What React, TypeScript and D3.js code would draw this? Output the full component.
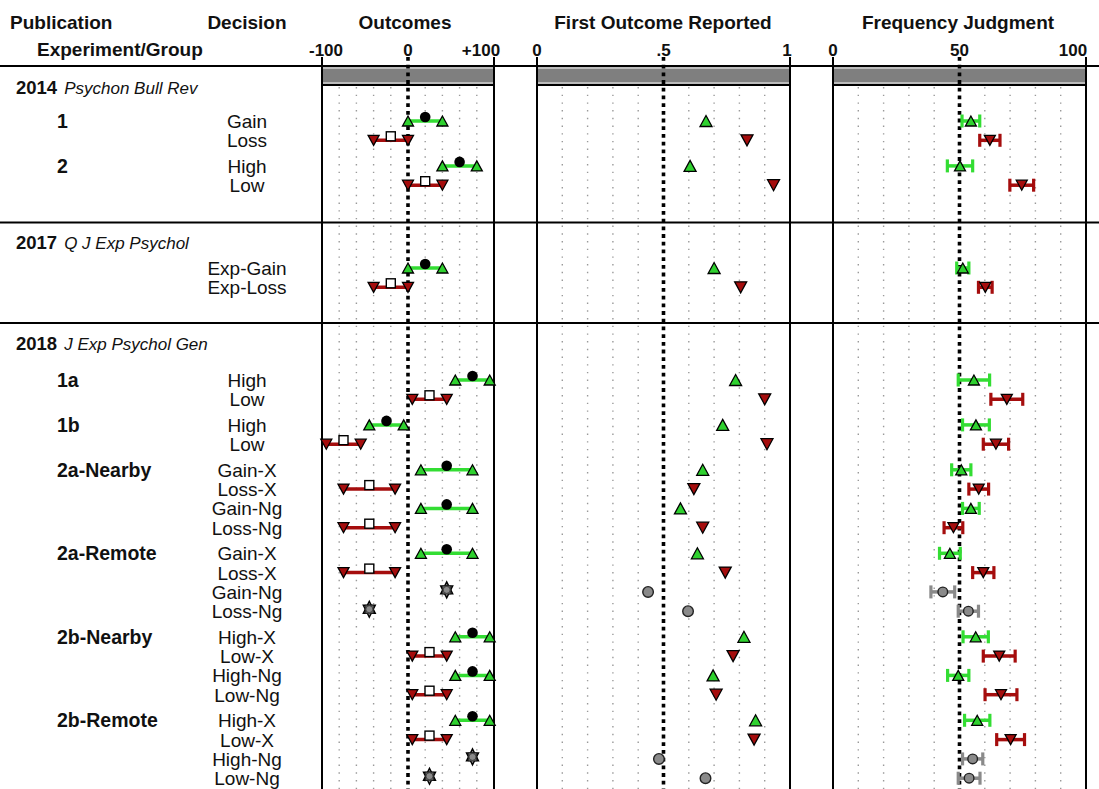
import React from "react";
import * as d3 from "d3";

// ---------- data ----------
const sectionYears = ["2014", "2017", "2018"];
const sectionJournals = ["Psychon Bull Rev", "Q J Exp Psychol", "J Exp Psychol Gen"];

const rowSection = [0, 0, 0, 0, 1, 1, 2, 2, 2, 2, 2, 2, 2, 2, 2, 2, 2, 2, 2, 2, 2, 2, 2, 2, 2, 2];
const rowGroup = ["1", "1", "2", "2", "", "", "1a", "1a", "1b", "1b",
  "2a-Nearby", "2a-Nearby", "2a-Nearby", "2a-Nearby",
  "2a-Remote", "2a-Remote", "2a-Remote", "2a-Remote",
  "2b-Nearby", "2b-Nearby", "2b-Nearby", "2b-Nearby",
  "2b-Remote", "2b-Remote", "2b-Remote", "2b-Remote"];
const rowDecision = ["Gain", "Loss", "High", "Low", "Exp-Gain", "Exp-Loss", "High", "Low", "High", "Low",
  "Gain-X", "Loss-X", "Gain-Ng", "Loss-Ng",
  "Gain-X", "Loss-X", "Gain-Ng", "Loss-Ng",
  "High-X", "Low-X", "High-Ng", "Low-Ng",
  "High-X", "Low-X", "High-Ng", "Low-Ng"];
const rowType = ["gain", "loss", "gain", "loss", "gain", "loss", "gain", "loss", "gain", "loss",
  "gain", "loss", "gain", "loss",
  "gain", "loss", "ng", "ng",
  "gain", "loss", "gain", "loss",
  "gain", "loss", "ng", "ng"];
const outLow = [0, -40, 40, 0, 0, -40, 55, 5, -45, -95, 15, -75, 15, -75, 15, -75, 45, -45, 55, 5, 55, 5, 55, 5, 75, 25];
const outMid = [20, -20, 60, 20, 20, -20, 75, 25, -25, -75, 45, -45, 45, -45, 45, -45, 45, -45, 75, 25, 75, 25, 75, 25, 75, 25];
const outHigh = [40, 0, 80, 40, 40, 0, 95, 45, -5, -55, 75, -15, 75, -15, 75, -15, 45, -45, 95, 45, 95, 45, 95, 45, 75, 25];
const firstReported = [0.668, 0.83, 0.605, 0.935, 0.70, 0.805, 0.785, 0.90, 0.734, 0.909,
  0.655, 0.62, 0.567, 0.655, 0.634, 0.744, 0.439, 0.597,
  0.818, 0.775, 0.696, 0.708, 0.864, 0.858, 0.482, 0.666];
const freqMean = [54.5, 62, 50.2, 74.6, 51.3, 60.2, 55.7, 68.7, 56.5, 64.4,
  50.7, 57.6, 54.5, 47.6, 46.2, 59.4, 43.4, 53.5,
  56.4, 65.7, 49.5, 66.4, 57, 70.2, 55.2, 53.8];
const freqCI = [3.5, 4, 5, 4.7, 2.4, 2.7, 6.2, 6.3, 5.3, 5,
  3.8, 3.9, 3.3, 3.7, 4.1, 4.2, 4.7, 4,
  5, 6.3, 4.2, 6.3, 5, 5.5, 4, 4.3];

const outTicks = [-100, 0, 100];
const outTickLabels = ["-100", "0", "+100"];
const firstTicks = [0, 0.5, 1];
const firstTickLabels = ["0", ".5", "1"];
const freqTicks = [0, 50, 100];
const freqTickLabels = ["0", "50", "100"];

// ---------- layout ----------
const W = 1099, H = 789;
const FONT = "'Liberation Sans', Arial, Helvetica, sans-serif";
const GREEN = "#2fd12f";
const GREEN_LINE = "#33dd33";
const RED = "#a50d0d";
const GRAY = "#8a8a8a";

const xOut = d3.scaleLinear().domain([-100, 100]).range([322, 494]);
const xFirst = d3.scaleLinear().domain([0, 1]).range([537, 790]);
const xFreq = d3.scaleLinear().domain([0, 100]).range([833, 1086]);

const sectionHeaderY = [87, 242, 343];
const sectionFirstRowY = [121, 268, 380];
const ROW_STEP = 19.3;
const GROUP_STEP = 25.6;

const rowY: number[] = [];
rowSection.forEach((s, i) => {
  if (i === 0 || rowSection[i - 1] !== s) rowY.push(sectionFirstRowY[s]);
  else {
    const prev = rowY[i - 1];
    const newGroup = rowGroup[i] !== rowGroup[i - 1];
    rowY.push(prev + (newGroup ? GROUP_STEP : ROW_STEP));
  }
});

const sepLines = [222.5, 323];
const HEADER_Y = 66;
const BAND_BOTTOM = 85;
const TOP_TICK = 57;

const triUp = (w: number, h: number) => `M${-w / 2},${h / 2}L${w / 2},${h / 2}L0,${-h / 2}Z`;
const triDown = (w: number, h: number) => `M${-w / 2},${-h / 2}L${w / 2},${-h / 2}L0,${h / 2}Z`;

const panels = [
  { scale: xOut, grid: [-80, -60, -40, -20, 20, 40, 60, 80], center: 0, ticks: outTicks, labels: outTickLabels, title: "Outcomes", titleX: 405 },
  { scale: xFirst, grid: [0.1, 0.2, 0.3, 0.4, 0.6, 0.7, 0.8, 0.9], center: 0.5, ticks: firstTicks, labels: firstTickLabels, title: "First Outcome Reported", titleX: 663 },
  { scale: xFreq, grid: [10, 20, 30, 40, 60, 70, 80, 90], center: 50, ticks: freqTicks, labels: freqTickLabels, title: "Frequency Judgment", titleX: 958 },
];

const tickX = (pi: number, i: number, v: number, sc: any) => {
  const x = sc(v);
  if (pi === 0 && i === 0) return x + 4;
  if (pi === 1 && i === 2) return x - 3;
  if (i === 2) return x - 13;
  return x;
};

export default function App() {
  React.useEffect(() => {
    document.body.style.margin = "0";
  }, []);

  return (
    <svg width={W} height={H} style={{ display: "block", background: "#fff" }} fontFamily={FONT}>
      {/* header titles */}
      <g fontWeight="bold" fontSize={19} fill="#111">
        <text x={10} y={29}>Publication</text>
        <text x={247} y={29} textAnchor="middle">Decision</text>
        {panels.map((p, i) => (
          <text key={i} x={p.titleX} y={29} textAnchor="middle">{p.title}</text>
        ))}
        <text x={37} y={56}>Experiment/Group</text>
      </g>
      {/* tick labels */}
      <g fontWeight="bold" fontSize={17} fill="#111">
        {panels.map((p, pi) =>
          p.ticks.map((t, i) => (
            <text key={pi + "-" + i} x={tickX(pi, i, t, p.scale)} y={56} textAnchor="middle">
              {p.labels[i]}
            </text>
          ))
        )}
      </g>

      {/* light dotted gridlines */}
      {panels.map((p, pi) =>
        p.grid.map((g, i) => (
          <line key={"g" + pi + i} x1={p.scale(g)} x2={p.scale(g)} y1={BAND_BOTTOM + 2} y2={H}
            stroke="#9a9a9a" strokeWidth={1.4} strokeDasharray="1.4 6.3" />
        ))
      )}

      {/* header band */}
      {panels.map((p, pi) => {
        const [a, b] = p.scale.range();
        return (
          <g key={"band" + pi}>
            <rect x={a} y={HEADER_Y} width={b - a} height={BAND_BOTTOM - HEADER_Y} fill="#7f7f7f" />
            <line x1={a} x2={b} y1={HEADER_Y + 2} y2={HEADER_Y + 2} stroke="#d0d0d0" strokeWidth={1.5} />
            <line x1={a} x2={b} y1={BAND_BOTTOM - 2} y2={BAND_BOTTOM - 2} stroke="#d0d0d0" strokeWidth={1.5} />
            <line x1={a} x2={b} y1={BAND_BOTTOM} y2={BAND_BOTTOM} stroke="#000" strokeWidth={2} />
          </g>
        );
      })}

      {/* horizontal rules */}
      <line x1={0} x2={W} y1={HEADER_Y} y2={HEADER_Y} stroke="#000" strokeWidth={2} />
      {sepLines.map((y, i) => (
        <line key={"sep" + i} x1={0} x2={W} y1={y} y2={y} stroke="#000" strokeWidth={2} />
      ))}

      {/* panel borders */}
      {panels.map((p, pi) => {
        const [a, b] = p.scale.range();
        return (
          <g key={"border" + pi}>
            <line x1={a} x2={a} y1={TOP_TICK} y2={H} stroke="#000" strokeWidth={2} />
            <line x1={b} x2={b} y1={TOP_TICK} y2={H} stroke="#000" strokeWidth={2} />
          </g>
        );
      })}

      {/* section headers */}
      {sectionYears.map((yr, s) => (
        <text key={"sec" + s} y={sectionHeaderY[s] + 6.5} fontSize={18.5} fill="#111">
          <tspan x={16} fontWeight="bold">{yr}</tspan>
          <tspan dx={7} fontStyle="italic" fontSize={17}>{sectionJournals[s]}</tspan>
        </text>
      ))}

      {/* group + decision labels */}
      {rowDecision.map((d, i) => (
        <g key={"lab" + i} fill="#111">
          {rowGroup[i] && (i === 0 || rowGroup[i] !== rowGroup[i - 1]) && (
            <text x={57} y={rowY[i] + 7} fontWeight="bold" fontSize={19.5}>{rowGroup[i]}</text>
          )}
          <text x={247} y={rowY[i] + 7} textAnchor="middle" fontSize={19}>{d}</text>
        </g>
      ))}

      {/* center thick dotted lines */}
      {panels.map((p, pi) => (
        <line key={"c" + pi} x1={p.scale(p.center)} x2={p.scale(p.center)} y1={TOP_TICK} y2={H}
          stroke="#000" strokeWidth={3.6} strokeDasharray="3.8 3.9" />
      ))}

      {/* Outcomes panel marks */}
      {rowType.map((t, i) => {
        const y = rowY[i];
        if (t === "ng") {
          const x = xOut(outMid[i]);
          return (
            <g key={"o" + i} transform={`translate(${x},${y - 2})`}>
              <path d={triUp(12, 12)} transform="translate(0,-2)" fill={GRAY} stroke="#000" strokeWidth={1.4} />
              <path d={triDown(12, 12)} transform="translate(0,2)" fill={GRAY} stroke="#000" strokeWidth={1.4} />
              <rect x={-4} y={-4} width={8} height={8} fill="#666" stroke="#222" strokeWidth={0.8} />
              <circle r={3.5} fill={GRAY} stroke="#333" strokeWidth={0.8} />
            </g>
          );
        }
        const isGain = t === "gain";
        const x1 = xOut(outLow[i]), x2 = xOut(outHigh[i]), xm = xOut(outMid[i]);
        const tri = isGain ? triUp(11, 10) : triDown(11, 10);
        return (
          <g key={"o" + i}>
            <line x1={x1} x2={x2} y1={y} y2={y} stroke={isGain ? GREEN_LINE : RED} strokeWidth={3.5} />
            <path d={tri} transform={`translate(${x1},${y})`} fill={isGain ? GREEN : RED} stroke="#000" strokeWidth={1.3} />
            <path d={tri} transform={`translate(${x2},${y})`} fill={isGain ? GREEN : RED} stroke="#000" strokeWidth={1.3} />
            {isGain ? (
              <circle cx={xm} cy={y - 4} r={5.3} fill="#000" />
            ) : (
              <rect x={xm - 4.5} y={y - 8.5} width={9} height={9} fill="#fff" stroke="#000" strokeWidth={1.4} />
            )}
          </g>
        );
      })}

      {/* First Outcome Reported marks */}
      {rowType.map((t, i) => {
        const x = xFirst(firstReported[i]);
        const y = rowY[i];
        if (t === "ng") return <circle key={"f" + i} cx={x} cy={y} r={5.3} fill={GRAY} stroke="#222" strokeWidth={1.4} />;
        const isGain = t === "gain";
        return (
          <path key={"f" + i} d={isGain ? triUp(12, 11) : triDown(12, 11)} transform={`translate(${x},${y})`}
            fill={isGain ? GREEN : RED} stroke="#000" strokeWidth={1.3} />
        );
      })}

      {/* Frequency Judgment marks */}
      {rowType.map((t, i) => {
        const y = rowY[i];
        const xm = xFreq(freqMean[i]);
        const lo = xFreq(freqMean[i] - freqCI[i]);
        const hi = xFreq(freqMean[i] + freqCI[i]);
        const col = t === "gain" ? GREEN_LINE : t === "loss" ? RED : GRAY;
        return (
          <g key={"q" + i}>
            <line x1={lo} x2={hi} y1={y} y2={y} stroke={col} strokeWidth={3.5} />
            <line x1={lo} x2={lo} y1={y - 6.5} y2={y + 6.5} stroke={col} strokeWidth={3.2} />
            <line x1={hi} x2={hi} y1={y - 6.5} y2={y + 6.5} stroke={col} strokeWidth={3.2} />
            {t === "ng" ? (
              <circle cx={xm} cy={y} r={4.8} fill={GRAY} stroke="#222" strokeWidth={1.4} />
            ) : (
              <path d={t === "gain" ? triUp(11, 10) : triDown(11, 10)} transform={`translate(${xm},${y})`}
                fill={t === "gain" ? GREEN : RED} stroke="#000" strokeWidth={1.3} />
            )}
          </g>
        );
      })}
    </svg>
  );
}
